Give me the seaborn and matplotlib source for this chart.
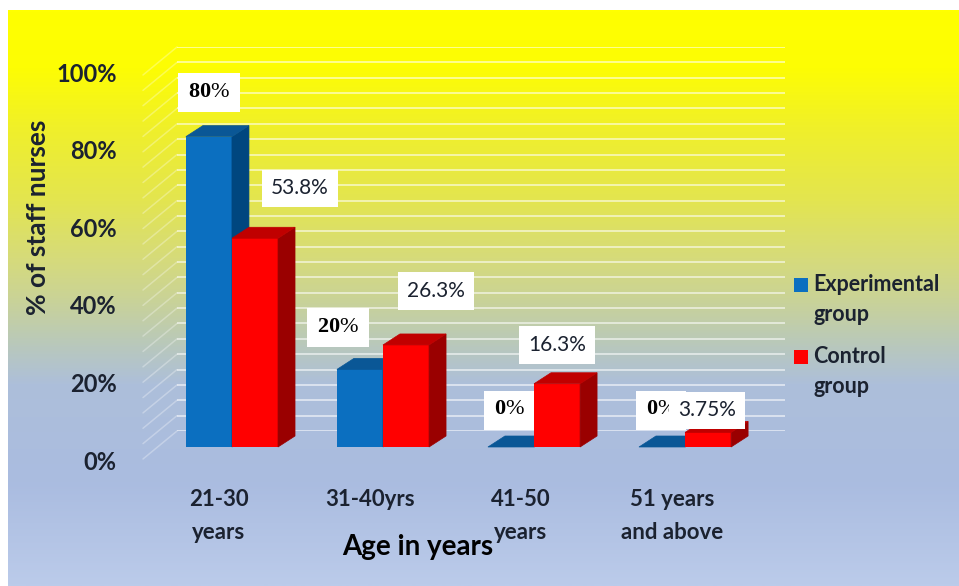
import numpy as np
import pandas as pd
import matplotlib
matplotlib.use("Agg")
import matplotlib.pyplot as plt
import seaborn as sns
from matplotlib.colors import LinearSegmentedColormap
from matplotlib.patches import Polygon, Rectangle
from matplotlib.transforms import ScaledTranslation, IdentityTransform
from matplotlib.lines import Line2D

# ---- data -------------------------------------------------------------
age_groups = ["21-30\nyears", "31-40yrs", "41-50\nyears", "51 years\nand above"]
groups = ["Experimental group", "Control group"]
experimental_pct = [80, 20, 0, 0]
control_pct = [53.8, 26.3, 16.3, 3.75]
y_ticks = [0, 20, 40, 60, 80, 100]
x_title = "Age in years"
y_title = "% of staff nurses"

df = pd.DataFrame({
    "age": age_groups * 2,
    "group": [groups[0]] * len(age_groups) + [groups[1]] * len(age_groups),
    "pct": experimental_pct + control_pct,
})

# ---- styling ------------------------------------------------------------
W, H, DPI = 959, 586, 100
front = {groups[0]: "#0B6FC0", groups[1]: "#FF0000"}
side = {groups[0]: "#00467F", groups[1]: "#9A0000"}
top = {groups[0]: "#0A5796", groups[1]: "#C00000"}
text_col = "#1B2230"
DEPTH = (17, 11)  # 3-D depth of the bars in pixels (right, up)

# label offsets from the top of each bar (pixels, right / up)
exp_offsets = [(0, 44), (-22, 42), (-2, 37), (-1, 37)]
ctl_offsets = [(45, 50), (30, 54), (0, 39), (-1, 22)]

sns.set_theme(style="white")
plt.rcParams["font.family"] = ["Lato", "DejaVu Sans"]
plt.rcParams["mathtext.fontset"] = "custom"
plt.rcParams["mathtext.bf"] = "Liberation Serif:bold"
plt.rcParams["mathtext.rm"] = "Liberation Serif"

fig = plt.figure(figsize=(W / DPI, H / DPI), dpi=DPI)
fig.patch.set_facecolor("white")


def px_rect(l, t, r, b):
    """Figure-pixel box (top-left origin) -> figure fraction rect."""
    return [l / W, 1 - b / H, (r - l) / W, (b - t) / H]


def disp(px, py):
    """Figure pixel (top-left origin) -> display coordinates."""
    return (px, H - py)


# ---- gradient backdrop --------------------------------------------------
bg = fig.add_axes(px_rect(8, 10, W, H), zorder=0)
stops = [
    (0.00, "#FFFF00"), (0.10, "#FDFD04"), (0.21, "#EFEF2C"),
    (0.33, "#E3E550"), (0.43, "#D6DB7A"), (0.50, "#CAD396"),
    (0.57, "#BBCAB6"), (0.65, "#ADBFDA"), (0.82, "#AABCE0"),
    (1.00, "#BBCBEA"),
]
cmap = LinearSegmentedColormap.from_list("backdrop", stops)
bg.imshow(np.linspace(0, 1, 600)[:, None], aspect="auto", cmap=cmap,
          interpolation="bilinear")
bg.set_axis_off()

# ---- back wall with gridlines ----------------------------------------------
wall = fig.add_axes(px_rect(177, 47, 785, 431), zorder=0.5)
wall.set_facecolor("none")
wall.set_ylim(0, 100)
wall.set_yticks(np.arange(0, 101, 4))
wall.set_xticks([])
wall.tick_params(axis="y", length=0, labelleft=False)
wall.grid(axis="y", color="white", alpha=0.6, linewidth=1.3)
for s in wall.spines.values():
    s.set_visible(False)

# side wall lines running from the back wall to the front edge
for v in np.arange(0, 101, 4):
    yb = 431 - 3.84 * v
    (x0, y0), (x1, y1) = disp(177, yb), disp(143, yb + 28)
    fig.add_artist(Line2D([x0, x1], [y0, y1], transform=IdentityTransform(),
                          color="white", alpha=0.3, linewidth=1.1, zorder=0.6))

# ---- bars --------------------------------------------------------------
ax = fig.add_axes(px_rect(143, 59, 790, 447), zorder=1)
ax.set_facecolor("none")
sns.barplot(data=df, x="age", y="pct", hue="group", order=age_groups,
            hue_order=groups, palette=[front[g] for g in groups],
            width=0.61, saturation=1, errorbar=None, legend=False, ax=ax,
            linewidth=0)
ax.set_xlim(-0.589, 3.695)
ax.set_ylim(0, 100)
for s in ax.spines.values():
    s.set_visible(False)

bars = sorted(ax.patches, key=lambda p: p.get_x())
dx, dy = DEPTH
for i, p in enumerate(bars):
    g = groups[i % 2]
    z = 3 + (i % 2) * 0.5
    p.set_zorder(z)
    x0, x1 = p.get_x(), p.get_x() + p.get_width()
    h = p.get_height()
    (ax0, ay0) = ax.transData.transform((x0, 0))
    (ax1, ay1) = ax.transData.transform((x1, h))
    side_face = [(ax1, ay0), (ax1 + dx, ay0 + dy), (ax1 + dx, ay1 + dy), (ax1, ay1)]
    top_face = [(ax0, ay1), (ax1, ay1), (ax1 + dx, ay1 + dy), (ax0 + dx, ay1 + dy)]
    for verts, col in ((side_face, side[g]), (top_face, top[g])):
        ax.add_patch(Polygon(verts, closed=True, transform=IdentityTransform(),
                             facecolor=col, edgecolor=col, linewidth=0.5,
                             zorder=z + 0.1, clip_on=False))

# ---- value labels ------------------------------------------------------
exp_bars = [b for i, b in enumerate(bars) if i % 2 == 0]
ctl_bars = [b for i, b in enumerate(bars) if i % 2 == 1]
for b, v, off in zip(exp_bars, experimental_pct, exp_offsets):
    ax.annotate(r"$\mathbf{%g}$%%" % v,
                (b.get_x() + b.get_width() / 2, b.get_height()),
                xytext=off, textcoords="offset pixels", ha="center", va="center",
                family="Liberation Serif", fontsize=16, color="black",
                bbox=dict(boxstyle="square,pad=0.45", fc="white", ec="none"),
                zorder=6, annotation_clip=False)
for b, v, off in zip(ctl_bars, control_pct, ctl_offsets):
    ax.annotate(f"{v:g}%",
                (b.get_x() + b.get_width() / 2, b.get_height()),
                xytext=off, textcoords="offset pixels", ha="center", va="center",
                fontsize=15, color=text_col,
                bbox=dict(boxstyle="square,pad=0.42", fc="white", ec="none"),
                zorder=7, annotation_clip=False)

# ---- axes text ---------------------------------------------------------
ax.tick_params(axis="y", length=0, pad=19)
ax.tick_params(axis="x", length=0, pad=30)
ax.set_yticks(y_ticks)
ax.set_yticklabels([f"{t}%" for t in y_ticks])
ax.set_xticks(range(len(age_groups)))
ax.set_xticklabels(age_groups)

for lab in ax.get_yticklabels():
    lab.set_fontsize(17)
    lab.set_fontweight("bold")
    lab.set_color(text_col)
    lab.set_transform(lab.get_transform() + ScaledTranslation(0, -13 / DPI, fig.dpi_scale_trans))
for lab in ax.get_xticklabels():
    lab.set_fontsize(16)
    lab.set_fontweight("bold")
    lab.set_color(text_col)
    lab.set_linespacing(1.75)
    lab.set_transform(lab.get_transform() + ScaledTranslation(-13 / DPI, 0, fig.dpi_scale_trans))

ax.set_xlabel(x_title, fontsize=20, fontweight="bold", color="black", va="center")
ax.xaxis.set_label_coords((418 - 143) / 647, (447 - 547) / 388)
ax.set_ylabel(y_title, fontsize=19, fontweight="bold", color=text_col, va="center")
ax.yaxis.set_label_coords((38 - 143) / 647, (447 - 217) / 388)

# ---- legend ------------------------------------------------------------
legend_rows = [(groups[0], 278), (groups[1], 350)]
for name, ytop in legend_rows:
    fig.add_artist(Rectangle(((794) / W, 1 - (ytop + 14) / H), 14 / W, 14 / H,
                             transform=fig.transFigure, facecolor=front[name],
                             edgecolor="none"))
    fig.text(813 / W, 1 - (ytop - 4) / H, name.replace(" ", "\n"),
             fontsize=15.5, fontweight="bold", color=text_col, va="top",
             ha="left", linespacing=1.55)

fig.savefig("out.png", dpi=DPI)
